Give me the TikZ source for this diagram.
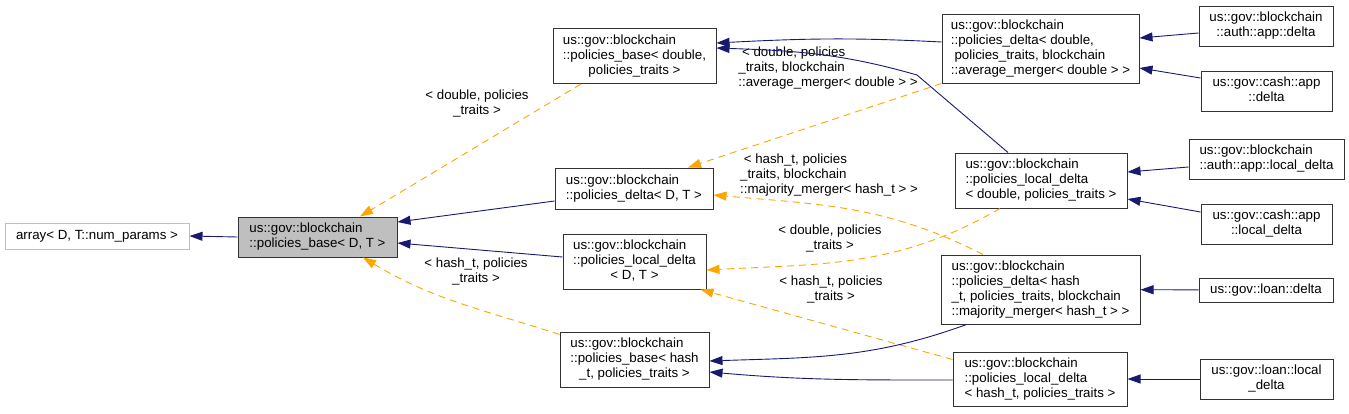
\documentclass[tikz,border=0pt]{standalone}
\usepackage{fontspec}
\setmainfont{Liberation Sans}
\usetikzlibrary{arrows.meta}

\definecolor{edgeblue}{HTML}{191970}
\definecolor{edgeorange}{HTML}{FFA500}
\definecolor{basegray}{HTML}{BFBFBF}

% left aligned lines, last line centred
\newcommand{\dlab}[2]{\begin{tabular}{@{}l@{}}#1\\\multicolumn{1}{@{}c@{}}{#2}\end{tabular}}
\newcommand{\donel}[1]{\begin{tabular}{@{}c@{}}#1\end{tabular}}

\tikzset{
	cls/.style={draw=black!80, fill=white, inner sep=0pt, line width=1pt, font=\fontsize{13.3}{15}\selectfont},
	ext/.style={cls, draw=basegray},
	cur/.style={cls, fill=basegray},
	lbl/.style={inner sep=0pt, font=\fontsize{13.3}{15}\selectfont},
	inh/.style={->, draw=edgeblue, line width=0.9pt},
	tpl/.style={->, draw=edgeorange, line width=0.9pt, dash pattern=on 7pt off 5pt},
}

\begin{document}
\begin{tikzpicture}[x=1pt, y=-1pt, >={Triangle[length=13pt,width=9pt]}]
	\useasboundingbox (0,0) rectangle (1349,413);
	% classes
	\node[ext, minimum width=184pt, minimum height=26pt] (array) at (97,236) {\donel{array< D, T::num\_params >}};
	\node[cur, minimum width=159pt, minimum height=40pt] (base_DT) at (317.5,237) {\dlab{us::gov::blockchain}{::policies\_base< D, T >}};
	\node[cls, minimum width=163pt, minimum height=55pt] (pbase_double) at (634.5,56) {\dlab{us::gov::blockchain\\::policies\_base< double,}{policies\_traits >}};
	\node[cls, minimum width=158pt, minimum height=41pt] (pdelta_DT) at (634,188.5) {\dlab{us::gov::blockchain}{::policies\_delta< D, T >}};
	\node[cls, minimum width=143pt, minimum height=55pt] (plocal_DT) at (634.5,261.5) {\dlab{us::gov::blockchain\\::policies\_local\_delta}{< D, T >}};
	\node[cls, minimum width=149pt, minimum height=55pt] (pbase_hash) at (634.5,359.5) {\dlab{us::gov::blockchain\\::policies\_base< hash}{\_t, policies\_traits >}};
	\node[cls, minimum width=197pt, minimum height=69pt] (pdelta_double) at (1040.5,48.5) {\dlab{us::gov::blockchain\\::policies\_delta< double,\\\ policies\_traits, blockchain}{::average\_merger< double > >}};
	\node[cls, minimum width=172pt, minimum height=55pt] (plocal_double) at (1041,180.5) {\dlab{us::gov::blockchain\\::policies\_local\_delta}{< double, policies\_traits >}};
	\node[cls, minimum width=199pt, minimum height=69pt] (pdelta_hash) at (1040.5,289.5) {\dlab{us::gov::blockchain\\::policies\_delta< hash\\\_t, policies\_traits, blockchain}{::majority\_merger< hash\_t > >}};
	\node[cls, minimum width=174pt, minimum height=54pt] (plocal_hash) at (1040,379) {\dlab{us::gov::blockchain\\::policies\_local\_delta}{< hash\_t, policies\_traits >}};
	\node[cls, minimum width=134pt, minimum height=40pt] (auth_delta) at (1266,26) {\dlab{us::gov::blockchain}{::auth::app::delta}};
	\node[cls, minimum width=131pt, minimum height=40pt] (cash_delta) at (1266.5,91) {\dlab{us::gov::cash::app}{::delta}};
	\node[cls, minimum width=155pt, minimum height=40pt] (auth_local) at (1266.5,159) {\dlab{us::gov::blockchain}{::auth::app::local\_delta}};
	\node[cls, minimum width=131pt, minimum height=40pt] (cash_local) at (1266.5,224) {\dlab{us::gov::cash::app}{::local\_delta}};
	\node[cls, minimum width=134pt, minimum height=24pt] (loan_delta) at (1266,290) {\donel{us::gov::loan::delta}};
	\node[cls, minimum width=133pt, minimum height=40pt] (loan_local) at (1266.5,379) {\dlab{us::gov::loan::local}{\_delta}};
	% template arguments
	\node[lbl] (lbl_base_double) at (477,104) {\dlab{< double, policies}{\_traits >}};
	\node[lbl] (lbl_base_hash) at (476,271.5) {\dlab{< hash\_t, policies}{\_traits >}};
	\node[lbl] (lbl_delta_double) at (828,68) {\dlab{\ < double, policies\\\_traits, blockchain}{::average\_merger< double > >}};
	\node[lbl] (lbl_delta_hash) at (829,175) {\dlab{\ < hash\_t, policies\\\_traits, blockchain}{::majority\_merger< hash\_t > >}};
	\node[lbl] (lbl_local_double) at (830,238.5) {\dlab{< double, policies}{\_traits >}};
	\node[lbl] (lbl_local_hash) at (831,290) {\dlab{< hash\_t, policies}{\_traits >}};
	\coordinate (bend1) at (917,75);
	% inheritance
	\draw[inh] (base_DT.west) -- (array.east);
	\draw[inh] ([yshift=-12.5pt]pdelta_DT.west) -- ([yshift=15pt]base_DT.east);
	\draw[inh] ([yshift=4.5pt]plocal_DT.west) -- ([yshift=-6pt]base_DT.east);
	\draw[tpl] ([xshift=-53.5pt]pbase_double.south) -- ([xshift=42.5pt]base_DT.north);
	\draw[tpl] ([yshift=-3pt]pbase_hash.north west) to[out=162, in=-31] ([xshift=45.5pt]base_DT.south);
	\draw[inh] ([yshift=6.5pt]pdelta_double.west) to[out=177, in=3] ([yshift=13pt]pbase_double.east);
	\draw[inh] ([xshift=-33pt]plocal_double.north) -- (bend1) to[out=164, in=-2] ([yshift=8pt]pbase_double.east);
	\draw[tpl] (pdelta_double.south west) -- ([xshift=54pt]pdelta_DT.north);
	\draw[tpl] ([xshift=-57.5pt]pdelta_hash.north) to[out=153, in=-5] ([yshift=-6.5pt]pdelta_DT.east);
	\draw[tpl] ([xshift=-41pt]plocal_double.south) to[out=210, in=3] ([yshift=-8.5pt]plocal_DT.east);
	\draw[tpl] ([yshift=-8pt]plocal_hash.north west) -- ([xshift=-6pt]plocal_DT.south east);
	\draw[inh] ([xshift=26pt]pdelta_hash.south west) to[out=200, in=2] ([yshift=-1.5pt]pbase_hash.east);
	\draw[inh] ([yshift=-1pt]plocal_hash.west) to[out=180, in=-5] ([yshift=-12.5pt]pbase_hash.east);
	\draw[inh] ([yshift=-7pt]auth_delta.west) -- ([yshift=10.5pt]pdelta_double.east);
	\draw[inh] ([yshift=13pt]cash_delta.west) -- ([yshift=-19.5pt]pdelta_double.east);
	\draw[inh] ([yshift=-8pt]auth_local.west) -- ([yshift=8.5pt]plocal_double.east);
	\draw[inh] ([yshift=12pt]cash_local.west) -- ([yshift=-18.5pt]plocal_double.east);
	\draw[inh] (loan_delta) -- (pdelta_hash);
	\draw[inh] (loan_local) -- (plocal_hash);
\end{tikzpicture}
\end{document}
